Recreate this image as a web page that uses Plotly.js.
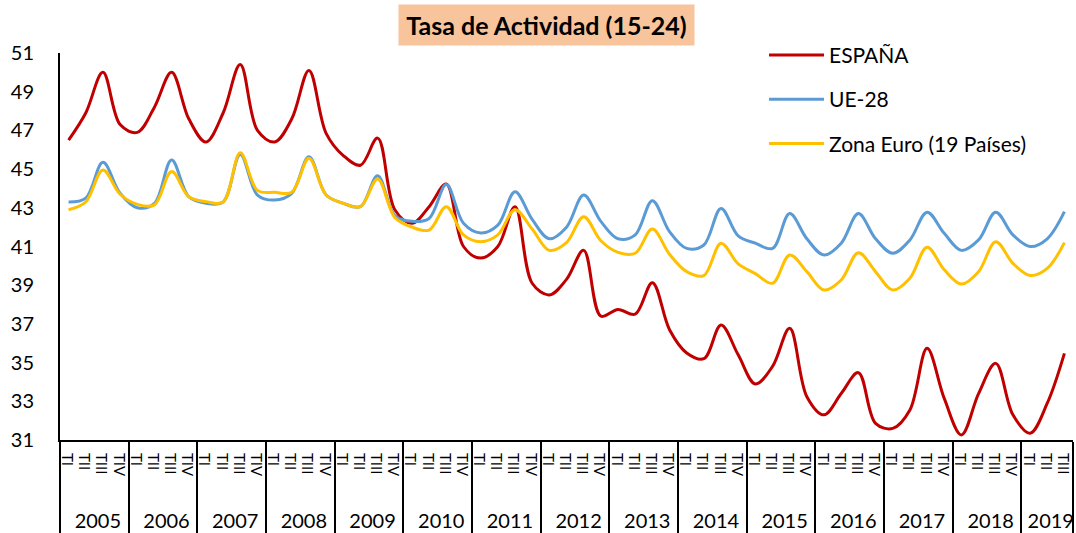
<!DOCTYPE html>
<html>
<head>
<meta charset="utf-8">
<script src="https://cdn.plot.ly/plotly-3.0.1.min.js"></script>
<style>
  html, body { margin: 0; padding: 0; background: #fff; }
  #chart { width: 1076px; height: 533px; }
</style>
</head>
<body>
<div id="chart"></div>
<script>
// ---- Data (quarterly, 2005 TI .. 2019 TIII) ----
const years = ['2005','2006','2007','2008','2009','2010','2011','2012','2013','2014','2015','2016','2017','2018','2019'];
const quarters = ['TI','TII','TIII','TIV'];
const seriesNames = ['ESPAÑA', 'UE-28', 'Zona Euro (19 Países)'];

const espana = [
  46.5, 47.9, 50.0, 47.3,
  46.9, 48.2, 50.0, 47.6,
  46.4, 47.9, 50.4, 47.0,
  46.4, 47.6, 50.1, 46.85,
  45.7, 45.2, 46.6, 42.9,
  42.2, 43.06, 44.23, 41.0,
  40.4, 41.0, 43.06, 39.1,
  38.5, 39.3, 40.8, 37.4,
  37.75, 37.5, 39.13, 36.7,
  35.5, 35.2, 36.94, 35.4,
  33.9, 34.8, 36.77, 33.24,
  32.3, 33.4, 34.48, 31.86,
  31.6, 32.55, 35.74, 33.15,
  31.26, 33.4, 34.96, 32.3,
  31.35, 32.9, 35.48
];
const ue28 = [
  43.3, 43.5, 45.35, 43.75,
  43.0, 43.23, 45.47, 43.57,
  43.23, 43.3, 45.76, 43.66,
  43.4, 43.75, 45.64, 43.66,
  43.23, 43.06, 44.66, 42.6,
  42.3, 42.45, 44.2, 42.2,
  41.7, 42.1, 43.83, 42.4,
  41.4, 42.0, 43.66, 42.3,
  41.4, 41.6, 43.37, 41.77,
  40.9, 41.08, 42.97, 41.55,
  41.17, 40.9, 42.7, 41.4,
  40.56, 41.17, 42.7, 41.4,
  40.65, 41.34, 42.77, 41.68,
  40.8, 41.34, 42.77, 41.6,
  41.0, 41.4, 42.8
];
const zonaEuro = [
  42.9, 43.3, 44.95, 43.7,
  43.18, 43.15, 44.87, 43.57,
  43.32, 43.3, 45.85, 43.9,
  43.8, 43.8, 45.56, 43.66,
  43.23, 43.06, 44.49, 42.5,
  42.0, 41.85, 43.06, 41.6,
  41.25, 41.6, 42.9, 41.9,
  40.8, 41.2, 42.54, 41.3,
  40.7, 40.65, 41.9, 40.6,
  39.7, 39.5, 41.17, 40.1,
  39.6, 39.1, 40.56, 39.7,
  38.75, 39.27, 40.68, 39.7,
  38.75, 39.36, 40.96, 39.8,
  39.06, 39.7, 41.25, 40.13,
  39.5, 39.87, 41.2
];

// ---- Build multicategory x from the arrays ----
// inner (quarter) labels are drawn smaller; trailing blanks leave room for the year row
const PAD = '\u00a0'.repeat(4);
const xYear = [], xQuarter = [];
for (let i = 0; i < espana.length; i++) {
  xYear.push(years[Math.floor(i / 4)]);
  xQuarter.push('<span style="font-size:15px">' + quarters[i % 4] + '</span>' + PAD);
}
const xCats = [xYear, xQuarter];

const FONT = 'Lato, "Liberation Sans", Arial, sans-serif';
const colors = ['#C00000', '#5B9BD5', '#FFC000'];
const values = [espana, ue28, zonaEuro];

const traces = values.map((v, k) => ({
  type: 'scatter',
  mode: 'lines',
  x: xCats,
  y: v,
  name: seriesNames[k],
  legendgroup: 'g' + k,
  line: { color: colors[k], width: 3, shape: 'spline', smoothing: 1 },
  hoverinfo: 'y+name'
}));

const layout = {
  width: 1076,
  height: 533,
  margin: { l: 60, r: 3, t: 53, b: 93, pad: 0 },
  paper_bgcolor: '#ffffff',
  plot_bgcolor: '#ffffff',
  font: { family: FONT, size: 20, color: '#000' },
  showlegend: true,
  legend: {
    x: 0.695, xanchor: 'left',
    y: 1.047, yanchor: 'top',
    bgcolor: 'rgba(0,0,0,0)',
    font: { family: FONT, size: 21, color: '#000' },
    tracegroupgap: 14,
    itemwidth: 55
  },
  xaxis: {
    type: 'multicategory',
    range: [-0.5, espana.length - 0.5],
    tickmode: 'linear',
    tick0: 0,
    dtick: 1,
    showline: true,
    linecolor: '#000',
    linewidth: 2,
    showgrid: false,
    zeroline: false,
    ticks: '',
    tickangle: 90,
    ticklabelstandoff: 7,
    tickfont: { family: FONT, size: 20, color: '#000' },
    showdividers: true,
    dividercolor: '#000',
    dividerwidth: 2,
    automargin: false
  },
  yaxis: {
    range: [31, 51],
    tickvals: [31, 33, 35, 37, 39, 41, 43, 45, 47, 49, 51],
    showline: true,
    linecolor: '#000',
    linewidth: 2,
    showgrid: false,
    zeroline: false,
    ticks: '',
    ticklabelstandoff: 20,
    tickfont: { family: FONT, size: 20, color: '#000' },
    automargin: false
  },
  annotations: [{
    xref: 'paper', yref: 'paper',
    x: 0.480, y: 1.0724,
    xanchor: 'center', yanchor: 'middle',
    text: '<b>Tasa de Actividad (15-24)</b>',
    showarrow: false,
    font: { family: FONT, size: 25, color: '#000' },
    bgcolor: '#F8C49C',
    width: 291,
    height: 36,
    borderpad: 2
  }]
};

Plotly.newPlot('chart', traces, layout, { displayModeBar: false, staticPlot: true });
</script>
</body>
</html>
